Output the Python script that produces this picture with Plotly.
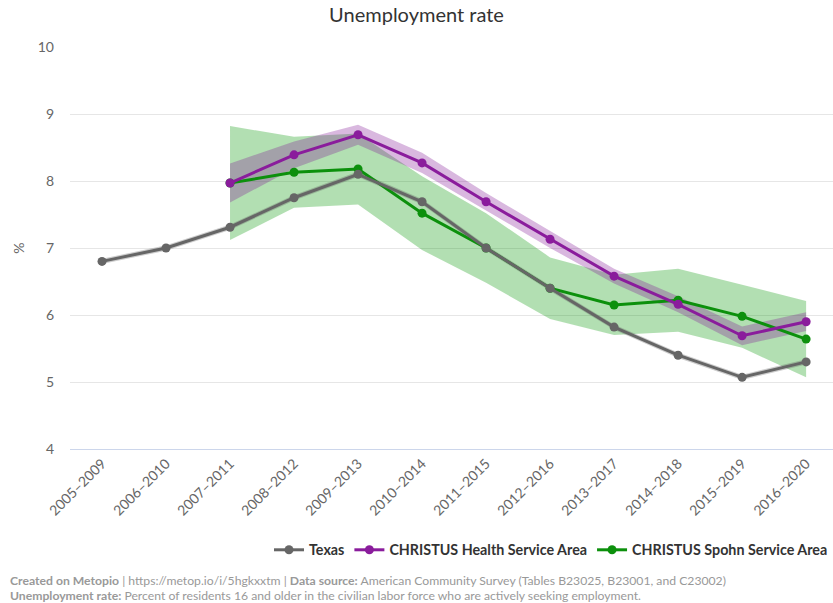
import plotly.graph_objects as go

periods = ["2005–2009", "2006–2010", "2007–2011", "2008–2012", "2009–2013", "2010–2014",
           "2011–2015", "2012–2016", "2013–2017", "2014–2018", "2015–2019", "2016–2020"]

texas = [6.8, 7.0, 7.31, 7.75, 8.1, 7.69, 7.0, 6.4, 5.82, 5.4, 5.07, 5.3]
texas_moe = [0.04, 0.04, 0.04, 0.04, 0.04, 0.04, 0.04, 0.04, 0.04, 0.04, 0.04, 0.04]

health_periods = periods[2:]
health = [7.97, 8.39, 8.69, 8.27, 7.69, 7.13, 6.58, 6.16, 5.69, 5.9]
health_moe = [0.29, 0.2, 0.15, 0.15, 0.13, 0.13, 0.11, 0.12, 0.14, 0.14]

spohn_periods = periods[2:]
spohn = [7.97, 8.13, 8.18, 7.52, 7.0, 6.4, 6.15, 6.22, 5.98, 5.64]
spohn_moe = [0.85, 0.53, 0.53, 0.55, 0.52, 0.46, 0.45, 0.47, 0.47, 0.57]

FONT = "Lato"
GREY = "#666666"
PURPLE = "#8a1c9c"
GREEN = "#0c900c"

W, H = 833, 603
ML, MR, MT, MB = 70, 0, 47, 154
PW, PH = W - ML - MR, H - MT - MB

fig = go.Figure()


def band(xs, ys, moe, color):
    upper = [y + m for y, m in zip(ys, moe)]
    lower = [y - m for y, m in zip(ys, moe)]
    fig.add_trace(go.Scatter(x=xs + xs[::-1], y=upper + lower[::-1], fill="toself",
                             fillcolor=color, line=dict(width=0), mode="lines",
                             hoverinfo="skip", showlegend=False))


band(spohn_periods, spohn, spohn_moe, "rgba(0,150,0,0.3)")
band(health_periods, health, health_moe, "rgba(130,20,150,0.3)")
band(periods, texas, texas_moe, "rgba(90,90,90,0.3)")

fig.add_trace(go.Scatter(x=spohn_periods, y=spohn, name="CHRISTUS Spohn Service Area",
                         mode="lines+markers", line=dict(color=GREEN, width=3),
                         marker=dict(size=9, color=GREEN), legendrank=3))
fig.add_trace(go.Scatter(x=health_periods, y=health, name="CHRISTUS Health Service Area",
                         mode="lines+markers", line=dict(color=PURPLE, width=3),
                         marker=dict(size=9, color=PURPLE), legendrank=2))
fig.add_trace(go.Scatter(x=periods, y=texas, name="Texas",
                         mode="lines+markers", line=dict(color=GREY, width=3),
                         marker=dict(size=9, color=GREY), legendrank=1))

fig.update_layout(
    width=W, height=H,
    margin=dict(l=ML, r=MR, t=MT, b=MB, autoexpand=False),
    paper_bgcolor="white", plot_bgcolor="white",
    font=dict(family=FONT, color="#666666", size=14),
    title=dict(text="Unemployment rate", x=0.5, xanchor="center", y=0.975, yanchor="middle",
               font=dict(family=FONT, size=20, color="#333333")),
    showlegend=True,
    legend=dict(orientation="h", xref="container", yref="container", x=1, xanchor="right",
                y=1 - 550 / H, yanchor="middle",
                font=dict(family=FONT, size=14.3, color="#333333", weight="bold"),
                itemwidth=30, bgcolor="rgba(0,0,0,0)"),
    xaxis=dict(type="category", categoryorder="array", categoryarray=periods,
               range=[-0.5, 11.42], tickangle=-45, showgrid=False, zeroline=False,
               showline=True, linecolor="#ccd6eb", linewidth=1,
               tickfont=dict(family=FONT, size=14, color="#666666"), ticks=""),
    yaxis=dict(range=[4, 10], dtick=1, showgrid=True, gridcolor="#e6e6e6", zeroline=False,
               tickfont=dict(family=FONT, size=14, color="#666666"), ticks="",
               ticklabelstandoff=15,
               title=dict(text="%", font=dict(family=FONT, size=14, color="#666666"), standoff=9)),
)

fx = (8 - ML) / PW
fig.add_annotation(xref="paper", yref="paper", x=fx, y=-(580 - 449) / PH, xanchor="left",
                   yanchor="middle", showarrow=False, align="left",
                   font=dict(family=FONT, size=12.2, color="#999999"),
                   text="<b>Created on Metopio</b> | https://metop.io/i/5hgkxxtm | <b>Data source:</b> American Community Survey (Tables B23025, B23001, and C23002)")
fig.add_annotation(xref="paper", yref="paper", x=fx, y=-(595 - 449) / PH, xanchor="left",
                   yanchor="middle", showarrow=False, align="left",
                   font=dict(family=FONT, size=12.2, color="#999999"),
                   text="<b>Unemployment rate:</b> Percent of residents 16 and older in the civilian labor force who are actively seeking employment.")

fig.write_html("out.html", config={"displayModeBar": False},
               post_script="document.body.style.margin='0';document.body.style.overflow='hidden';")
